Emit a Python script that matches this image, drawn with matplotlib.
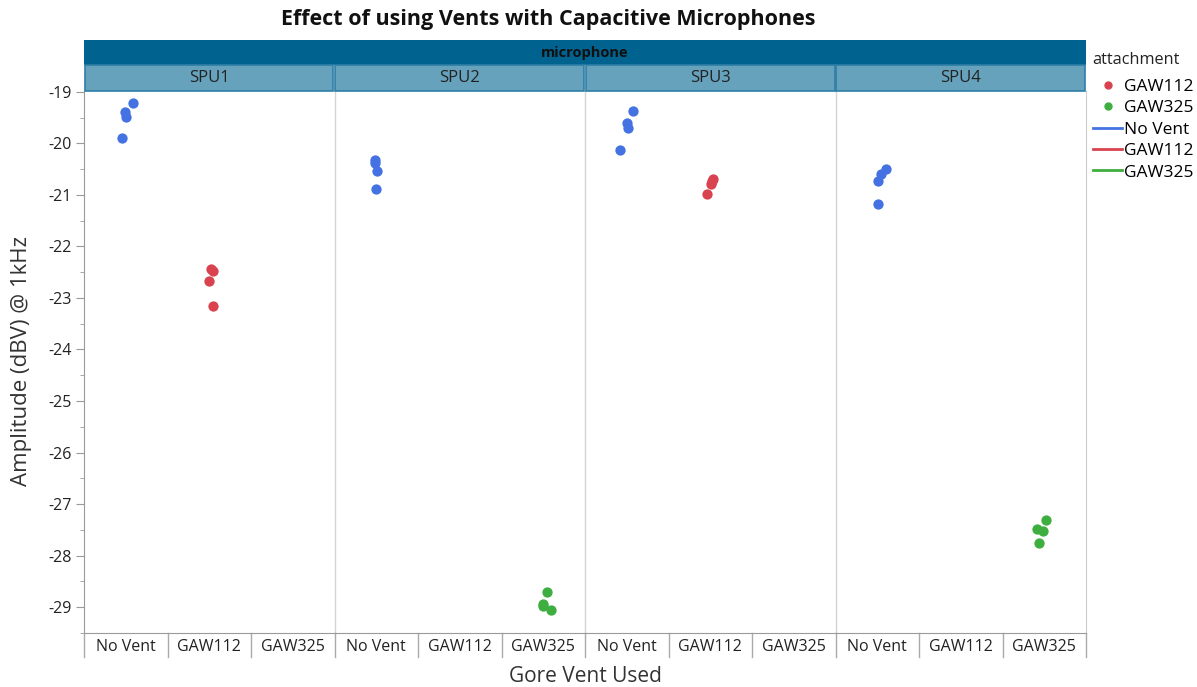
import numpy as np
import matplotlib.pyplot as plt
from matplotlib.patches import Rectangle
from matplotlib.lines import Line2D

plt.rcParams["font.family"] = ["Open Sans", "DejaVu Sans"]

microphones = ["SPU1", "SPU2", "SPU3", "SPU4"]
vents = ["No Vent", "GAW112", "GAW325"]
colors = {"No Vent": "#4472E2", "GAW112": "#D9434F", "GAW325": "#3DAE3F"}

# amplitude readings (dBV @ 1kHz) per microphone / vent
spu1_novent = [-19.22, -19.40, -19.49, -19.89]
spu1_gaw112 = [-22.44, -22.47, -22.68, -23.15]
spu2_novent = [-20.33, -20.39, -20.53, -20.89]
spu2_gaw325 = [-28.70, -28.93, -28.98, -29.06]
spu3_novent = [-19.37, -19.60, -19.71, -20.13]
spu3_gaw112 = [-20.69, -20.73, -20.79, -20.99]
spu4_novent = [-20.49, -20.59, -20.74, -21.17]
spu4_gaw325 = [-27.31, -27.48, -27.52, -27.76]

# horizontal jitter of each point, in category widths
spu1_novent_jit = [0.09, -0.01, 0.0, -0.05]
spu1_gaw112_jit = [0.02, 0.04, 0.0, 0.05]
spu2_novent_jit = [-0.02, -0.02, 0.01, 0.0]
spu2_gaw325_jit = [0.05, 0.0, 0.0, 0.09]
spu3_novent_jit = [0.08, 0.0, 0.015, -0.08]
spu3_gaw112_jit = [0.03, 0.02, 0.01, -0.04]
spu4_novent_jit = [0.11, 0.05, 0.01, 0.01]
spu4_gaw325_jit = [0.02, -0.09, -0.01, -0.06]

groups = [
    ("SPU1", "No Vent", spu1_novent, spu1_novent_jit),
    ("SPU1", "GAW112", spu1_gaw112, spu1_gaw112_jit),
    ("SPU2", "No Vent", spu2_novent, spu2_novent_jit),
    ("SPU2", "GAW325", spu2_gaw325, spu2_gaw325_jit),
    ("SPU3", "No Vent", spu3_novent, spu3_novent_jit),
    ("SPU3", "GAW112", spu3_gaw112, spu3_gaw112_jit),
    ("SPU4", "No Vent", spu4_novent, spu4_novent_jit),
    ("SPU4", "GAW325", spu4_gaw325, spu4_gaw325_jit),
]

W, H = 1197, 687
fig = plt.figure(figsize=(W / 100, H / 100), dpi=100)


def fx(px):
    return px / W


def fy(py):
    return 1 - py / H


x0, x1, y_top, y_bot = 84, 1086, 90.7, 633
ax = fig.add_axes([fx(x0), fy(y_bot), fx(x1) - fx(x0), fy(y_top) - fy(y_bot)])

ncat = len(microphones) * len(vents)
for mic, vent, vals, jit in groups:
    base = microphones.index(mic) * len(vents) + vents.index(vent)
    ax.scatter(base + np.array(jit), vals, s=55, color=colors[vent],
               linewidths=0, zorder=3)

ax.set_xlim(-0.5, ncat - 0.5)
ax.set_ylim(-29.45, -18.98)
ax.set_yticks(np.arange(-29, -18, 1))
ax.set_yticklabels([f"-{abs(v)}" for v in range(-29, -18)])
ax.set_yticks(np.arange(-29.5, -18.9, 1), minor=True)
ax.tick_params(axis="y", which="major", length=6, color="#9a9a9a",
               labelsize=11.5, labelcolor="#222222", pad=3)
ax.tick_params(axis="y", which="minor", length=3, color="#9a9a9a")

ax.set_xticks(range(ncat))
ax.set_xticklabels(vents * len(microphones))
ax.tick_params(axis="x", length=0, labelsize=11.5, labelcolor="#222222", pad=4.5)

ax.spines["top"].set_visible(False)
for s in ["left", "bottom"]:
    ax.spines[s].set_color("#9a9a9a")
ax.spines["right"].set_color("#cccccc")

# panel separators
for i in range(1, len(microphones)):
    ax.axvline(i * len(vents) - 0.5, color="#d4d4d4", lw=1, zorder=1)

# boxes under the category labels
box_h = 24 / (y_bot - y_top)
for k in range(ncat + 1):
    ax.plot([k - 0.5, k - 0.5], [0, -box_h], transform=ax.get_xaxis_transform(),
            color="#aaaaaa", lw=1, clip_on=False)

# facet header strips
fig.patches.append(Rectangle((fx(x0), fy(65)), fx(x1) - fx(x0), fy(40) - fy(65),
                             transform=fig.transFigure, facecolor="#00628F",
                             edgecolor="none"))
fig.text((fx(x0) + fx(x1)) / 2, fy(52.5), "microphone", ha="center", va="center",
         fontsize=10.5, fontweight="bold", color="#111111")
pw = (x1 - x0) / len(microphones)
for i, mic in enumerate(microphones):
    left = x0 + i * pw
    fig.patches.append(Rectangle((fx(left + 0.5), fy(90.7)), fx(pw - 1.5), fy(65.5) - fy(90.7),
                                 transform=fig.transFigure, facecolor="#67A2BD",
                                 edgecolor="#2D7EA5", lw=1.2))
    fig.text(fx(left + pw / 2), fy(77.5), mic, ha="center", va="center",
             fontsize=12, color="#222222")

fig.text(fx(548), fy(20), "Effect of using Vents with Capacitive Microphones",
         ha="center", va="center", fontsize=15.5, fontweight="bold", color="#111111")
fig.text(fx(585), fy(677), "Gore Vent Used", ha="center", va="center",
         fontsize=15, color="#333333")
fig.text(fx(22), fy(361), "Amplitude (dBV) @ 1kHz", ha="center", va="center",
         rotation=90, fontsize=16, color="#333333")

# legend
fig.text(fx(1092), fy(60), "attachment", ha="left", va="center",
         fontsize=11.7, color="#222222")
handles = [
    Line2D([], [], ls="none", marker="o", ms=5, color=colors["GAW112"]),
    Line2D([], [], ls="none", marker="o", ms=5, color=colors["GAW325"]),
    Line2D([], [], color=colors["No Vent"], lw=2),
    Line2D([], [], color=colors["GAW112"], lw=2),
    Line2D([], [], color=colors["GAW325"], lw=2),
]
labels = ["GAW112", "GAW325", "No Vent", "GAW112", "GAW325"]
fig.legend(handles, labels, loc="upper left",
           bbox_to_anchor=(fx(1086), fy(72)), frameon=False, fontsize=12.5,
           handlelength=1.7, handletextpad=0.1, labelspacing=0.3,
           borderaxespad=0.2, borderpad=0.2)

fig.savefig("out.png", dpi=100)
